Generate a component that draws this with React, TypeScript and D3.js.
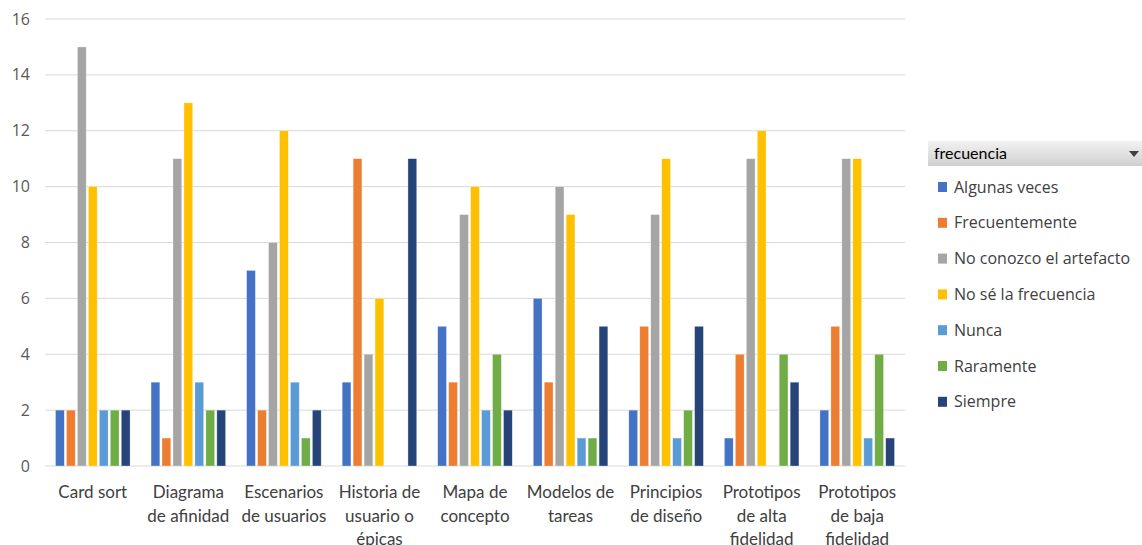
import React from "react";
import * as d3 from "d3";

const categories: string[][] = [
  ["Card sort"],
  ["Diagrama", "de afinidad"],
  ["Escenarios", "de usuarios"],
  ["Historia de", "usuario o", "épicas"],
  ["Mapa de", "concepto"],
  ["Modelos de", "tareas"],
  ["Principios", "de diseño"],
  ["Prototipos", "de alta", "fidelidad"],
  ["Prototipos", "de baja", "fidelidad"],
];

const seriesNames = [
  "Algunas veces",
  "Frecuentemente",
  "No conozco el artefacto",
  "No sé la frecuencia",
  "Nunca",
  "Raramente",
  "Siempre",
];

const seriesColors = ["#4472C4", "#ED7D31", "#A5A5A5", "#FFC000", "#5B9BD5", "#70AD47", "#264478"];

const algunasVeces = [2, 3, 7, 3, 5, 6, 2, 1, 2];
const frecuentemente = [2, 1, 2, 11, 3, 3, 5, 4, 5];
const noConozco = [15, 11, 8, 4, 9, 10, 9, 11, 11];
const noSe = [10, 13, 12, 6, 10, 9, 11, 12, 11];
const nunca = [2, 3, 3, 0, 2, 1, 1, 0, 1];
const raramente = [2, 2, 1, 0, 4, 1, 2, 4, 4];
const siempre = [2, 2, 2, 11, 2, 5, 5, 3, 1];

const seriesValues = [algunasVeces, frecuentemente, noConozco, noSe, nunca, raramente, siempre];

const yTicks = [0, 2, 4, 6, 8, 10, 12, 14, 16];

const W = 1142;
const H = 545;
const plot = { left: 45, right: 905, top: 19, bottom: 466 };

export default function App() {
  const x0 = d3
    .scaleBand<number>()
    .domain(categories.map((_, i) => i))
    .range([plot.left, plot.right])
    .paddingInner(0)
    .paddingOuter(0);
  const groupPad = 10.5;
  const x1 = d3
    .scaleBand<number>()
    .domain(seriesNames.map((_, i) => i))
    .range([groupPad, x0.bandwidth() - groupPad])
    .paddingInner(0.2)
    .paddingOuter(0);
  const y = d3.scaleLinear().domain([0, 16]).range([plot.bottom, plot.top]);

  const axisFont = "'Open Sans', 'DejaVu Sans', sans-serif";
  const catFont = "Lato, 'Liberation Sans', sans-serif";

  return (
    <svg
      width={W}
      height={H}
      style={{ position: "absolute", left: 0, top: 0, display: "block", background: "#fff" }}
    >
      <defs>
        <linearGradient id="hdr" x1="0" y1="0" x2="0" y2="1">
          <stop offset="0" stopColor="#f2f2f2" />
          <stop offset="1" stopColor="#d0d0d0" />
        </linearGradient>
      </defs>
      {yTicks.map((t) => (
        <g key={t}>
          <line
            x1={plot.left}
            x2={plot.right}
            y1={y(t)}
            y2={y(t)}
            stroke="#d9d9d9"
            strokeWidth={1}
          />
          <text
            x={30}
            y={y(t)}
            dy="0.35em"
            textAnchor="end"
            fontFamily={axisFont}
            fontSize={16}
            fill="#595959"
          >
            {t}
          </text>
        </g>
      ))}
      {categories.map((cat, ci) => (
        <g key={ci} transform={`translate(${x0(ci)},0)`}>
          {seriesValues.map((vals, si) =>
            vals[ci] > 0 ? (
              <rect
                key={si}
                x={x1(si)}
                width={x1.bandwidth()}
                y={y(vals[ci])}
                height={y(0) - y(vals[ci])}
                fill={seriesColors[si]}
                stroke="#ffffff"
                strokeOpacity={0.5}
                strokeWidth={0.6}
              />
            ) : null
          )}
          {cat.map((line, li) => (
            <text
              key={li}
              x={x0.bandwidth() / 2}
              y={498 + li * 23.5}
              textAnchor="middle"
              fontFamily={catFont}
              fontSize={17}
              fill="#404040"
            >
              {line}
            </text>
          ))}
        </g>
      ))}
      <g>
        <rect x={928} y={141} width={214} height={25} fill="url(#hdr)" />
        <text x={934} y={159} fontFamily={catFont} fontSize={16} fill="#000">
          frecuencia
        </text>
        <path d="M1129,151 L1139,151 L1134,157 Z" fill="#404040" />
        {seriesNames.map((name, i) => (
          <g key={name} transform={`translate(0,${187 + i * 35.8})`}>
            <rect x={938} y={-5} width={9} height={10} fill={seriesColors[i]} />
            <text
              x={954}
              y={0}
              dy="0.35em"
              fontFamily={axisFont}
              fontSize={16}
              fill="#404040"
            >
              {name}
            </text>
          </g>
        ))}
      </g>
    </svg>
  );
}
